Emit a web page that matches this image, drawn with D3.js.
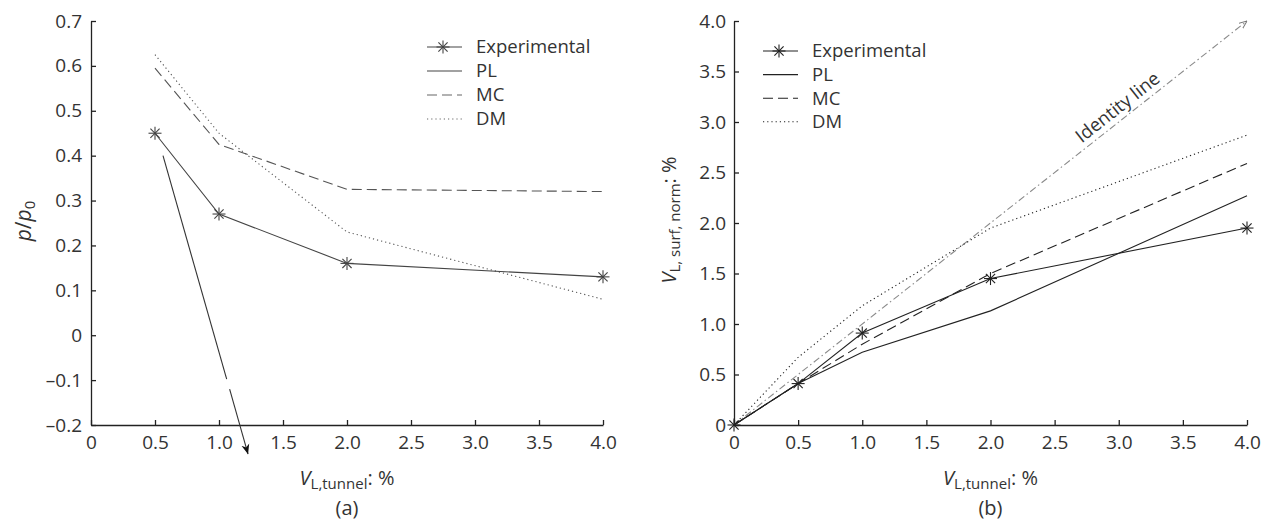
<!DOCTYPE html>
<html>
<head>
<meta charset="utf-8">
<script src="https://cdn.jsdelivr.net/npm/d3@7"></script>
<style>
  body { margin: 0; background: #fff; }
  text { font-family: 'Open Sans', 'Noto Sans', sans-serif; fill: #333; }
</style>
</head>
<body>
<div id="chart"></div>
<script>
// ---- data: panel (a) ----
const tunnelA = [0.5, 1.0, 2.0, 4.0]
const pExp = [0.45, 0.27, 0.16, 0.13]
const pMC = [0.595, 0.425, 0.325, 0.32]
const pDM = [0.625, 0.45, 0.23, 0.08]
// PL runs off the scale: drawn as a broken arrow
const plSeg1 = [[0.5625, 0.40], [1.06, -0.098]]
const plSeg2 = [[1.083, -0.12], [1.227, -0.265]]
const yTicksA = [-0.2, -0.1, 0, 0.1, 0.2, 0.3, 0.4, 0.5, 0.6, 0.7]

// ---- data: panel (b) ----
const tunnelB = [0, 0.5, 1.0, 2.0, 4.0]
const vExp = [0, 0.41, 0.91, 1.45, 1.95]
const vPL = [0, 0.41, 0.72, 1.13, 2.27]
const vMC = [0, 0.41, 0.80, 1.50, 2.59]
const vDM = [0, 0.67, 1.18, 1.95, 2.87]
const identity = [0, 4]
const yTicksB = [0, 0.5, 1.0, 1.5, 2.0, 2.5, 3.0, 3.5, 4.0]

const xTicks = [0, 0.5, 1.0, 1.5, 2.0, 2.5, 3.0, 3.5, 4.0]
const legendNames = ["Experimental", "PL", "MC", "DM"]

const svg = d3.select("#chart").append("svg")
  .attr("width", 1261)
  .attr("height", 522)

const defs = svg.append("defs")
defs.append("marker")
  .attr("id", "arrowBlack")
  .attr("viewBox", "0 0 10 10")
  .attr("refX", 10).attr("refY", 5)
  .attr("markerWidth", 10).attr("markerHeight", 10)
  .attr("markerUnits", "userSpaceOnUse")
  .attr("orient", "auto")
  .append("path").attr("d", "M0,1 L10,5 L0,9 L3,5 Z").attr("fill", "#111")
defs.append("marker")
  .attr("id", "arrowGrey")
  .attr("viewBox", "0 0 10 10")
  .attr("refX", 10).attr("refY", 5)
  .attr("markerWidth", 8).attr("markerHeight", 8)
  .attr("markerUnits", "userSpaceOnUse")
  .attr("orient", "auto")
  .append("path").attr("d", "M0,1 L10,5 L0,9").attr("fill", "none").attr("stroke", "#777").attr("stroke-width", 1.2)

// scales
const xA = d3.scaleLinear().domain([0, 4]).range([91, 603])
const yA = d3.scaleLinear().domain([-0.2, 0.7]).range([425, 21])
const xB = d3.scaleLinear().domain([0, 4]).range([734, 1247])
const yB = d3.scaleLinear().domain([0, 4]).range([425, 21])

const fmtX = d => d === 0 ? "0" : d.toFixed(1)
const fmtA = d => d === 0 ? "0" : d.toFixed(1).replace("-", "\u2013")
const fmtB = d => d === 0 ? "0" : d.toFixed(1)

function drawAxes(x, y, yTicks, yFmt, yPad) {
  const xAxis = svg.append("g")
    .attr("transform", `translate(0, ${y.range()[0]})`)
    .call(d3.axisBottom(x).tickValues(xTicks).tickFormat(fmtX)
      .tickSizeInner(-5).tickSizeOuter(0).tickPadding(11))
  const yAxis = svg.append("g")
    .attr("transform", `translate(${x.range()[0]}, 0)`)
    .call(d3.axisLeft(y).tickValues(yTicks).tickFormat(yFmt)
      .tickSizeInner(-5).tickSizeOuter(0).tickPadding(yPad))
  ;[xAxis, yAxis].forEach(a => {
    a.select(".domain").attr("stroke", "#222").attr("stroke-width", 1.3)
    a.selectAll(".tick line").attr("stroke", "#222").attr("stroke-width", 1.3)
    a.selectAll(".tick text")
      .attr("font-size", "19px")
      .attr("font-family", "'Open Sans', 'Noto Sans', sans-serif")
      .attr("fill", "#333")
  })
}

function star(g, cx, cy, r, color) {
  const s = g.append("g").attr("transform", `translate(${cx},${cy})`)
  ;[0, 45, 90, 135].forEach(a => {
    const rad = a * Math.PI / 180
    s.append("line")
      .attr("x1", -r * Math.cos(rad)).attr("y1", -r * Math.sin(rad))
      .attr("x2", r * Math.cos(rad)).attr("y2", r * Math.sin(rad))
      .attr("stroke", color).attr("stroke-width", 1.1)
  })
}

function series(xs, ys, x, y, color, dash, width) {
  const line = d3.line().x(d => x(d[0])).y(d => y(d[1]))
  svg.append("path")
    .attr("d", line(xs.map((v, i) => [v, ys[i]])))
    .attr("fill", "none")
    .attr("stroke", color)
    .attr("stroke-width", width || 1.1)
    .attr("stroke-dasharray", dash)
}

function legend(lx, ly, step, color) {
  const g = svg.append("g")
  const dashes = [null, null, "10,5", "1.2,3"]
  legendNames.forEach((name, i) => {
    const yy = ly + i * step
    g.append("line")
      .attr("x1", lx).attr("x2", lx + 35)
      .attr("y1", yy).attr("y2", yy)
      .attr("stroke", color[i]).attr("stroke-width", 1.1)
      .attr("stroke-dasharray", dashes[i])
    if (i === 0) star(g, lx + 16, yy, 6.5, color[i])
    g.append("text")
      .attr("x", lx + 49).attr("y", yy)
      .attr("dy", "0.35em")
      .attr("font-size", "18.5px")
      .text(name)
  })
}

function xTitle(cx, letter) {
  const t = svg.append("text")
    .attr("x", cx).attr("y", 485)
    .attr("text-anchor", "middle")
    .attr("font-size", "20px")
  t.append("tspan").attr("font-style", "italic").text("V")
  t.append("tspan").attr("font-size", "15px").attr("dy", 4).text("L,tunnel")
  t.append("tspan").attr("dy", -4).text(": %")
  svg.append("text")
    .attr("x", cx).attr("y", 515)
    .attr("text-anchor", "middle")
    .attr("font-size", "20px")
    .text(`(${letter})`)
}

/******************************** Panel (a) ********************************/
drawAxes(xA, yA, yTicksA, fmtA, 9)

series(tunnelA, pMC, xA, yA, "#555", "10,5")
series(tunnelA, pDM, xA, yA, "#555", "1.2,3")
series(tunnelA, pExp, xA, yA, "#444")
tunnelA.forEach((v, i) => star(svg, xA(v), yA(pExp[i]), 6.5, "#444"))

const segLine = d3.line().x(d => xA(d[0])).y(d => yA(d[1]))
svg.append("path").attr("d", segLine(plSeg1))
  .attr("fill", "none").attr("stroke", "#333").attr("stroke-width", 1.1)
svg.append("path").attr("d", segLine(plSeg2))
  .attr("fill", "none").attr("stroke", "#333").attr("stroke-width", 1.1)
  .attr("marker-end", "url(#arrowBlack)")

legend(427, 47, 24, ["#444", "#444", "#666", "#666"])

const yLabelA = svg.append("text")
  .attr("transform", `translate(31, 221) rotate(-90)`)
  .attr("text-anchor", "middle")
  .attr("font-size", "21px")
yLabelA.append("tspan").attr("font-style", "italic").text("p")
yLabelA.append("tspan").text("/")
yLabelA.append("tspan").attr("font-style", "italic").text("p")
yLabelA.append("tspan").attr("font-size", "15px").attr("dy", 4).text("0")

xTitle((xA.range()[0] + xA.range()[1]) / 2, "a")

/******************************** Panel (b) ********************************/
drawAxes(xB, yB, yTicksB, fmtB, 8)

series(identity, identity, xB, yB, "#8a8a8a", "7,3,1.5,3", 1.1)
series(tunnelB, vDM, xB, yB, "#222", "1.2,3")
series(tunnelB, vMC, xB, yB, "#222", "10,5")
series(tunnelB, vPL, xB, yB, "#222")
series(tunnelB, vExp, xB, yB, "#222")
tunnelB.forEach((v, i) => star(svg, xB(v), yB(vExp[i]), 6.5, "#222"))

// arrow head on the identity line
svg.append("path")
  .attr("d", d3.line().x(d => xB(d)).y(d => yB(d))([3.95, 4]))
  .attr("fill", "none").attr("stroke", "none")
  .attr("marker-end", "url(#arrowGrey)")

const angle = Math.atan2(yB(4) - yB(0), xB(4) - xB(0)) * 180 / Math.PI
svg.append("text")
  .attr("transform", `translate(${xB(3.05)}, ${yB(3.05)}) rotate(${angle})`)
  .attr("text-anchor", "middle")
  .attr("dy", -6)
  .attr("font-size", "18.5px")
  .text("Identity line")

legend(763, 51, 23.6, ["#222", "#222", "#222", "#222"])

const yLabelB = svg.append("text")
  .attr("transform", `translate(676, 220) rotate(-90)`)
  .attr("text-anchor", "middle")
  .attr("font-size", "20px")
yLabelB.append("tspan").attr("font-style", "italic").text("V")
yLabelB.append("tspan").attr("font-size", "15px").attr("dy", 4).text("L, surf, norm")
yLabelB.append("tspan").attr("dy", -4).text(": %")

xTitle((xB.range()[0] + xB.range()[1]) / 2, "b")
</script>
</body>
</html>
